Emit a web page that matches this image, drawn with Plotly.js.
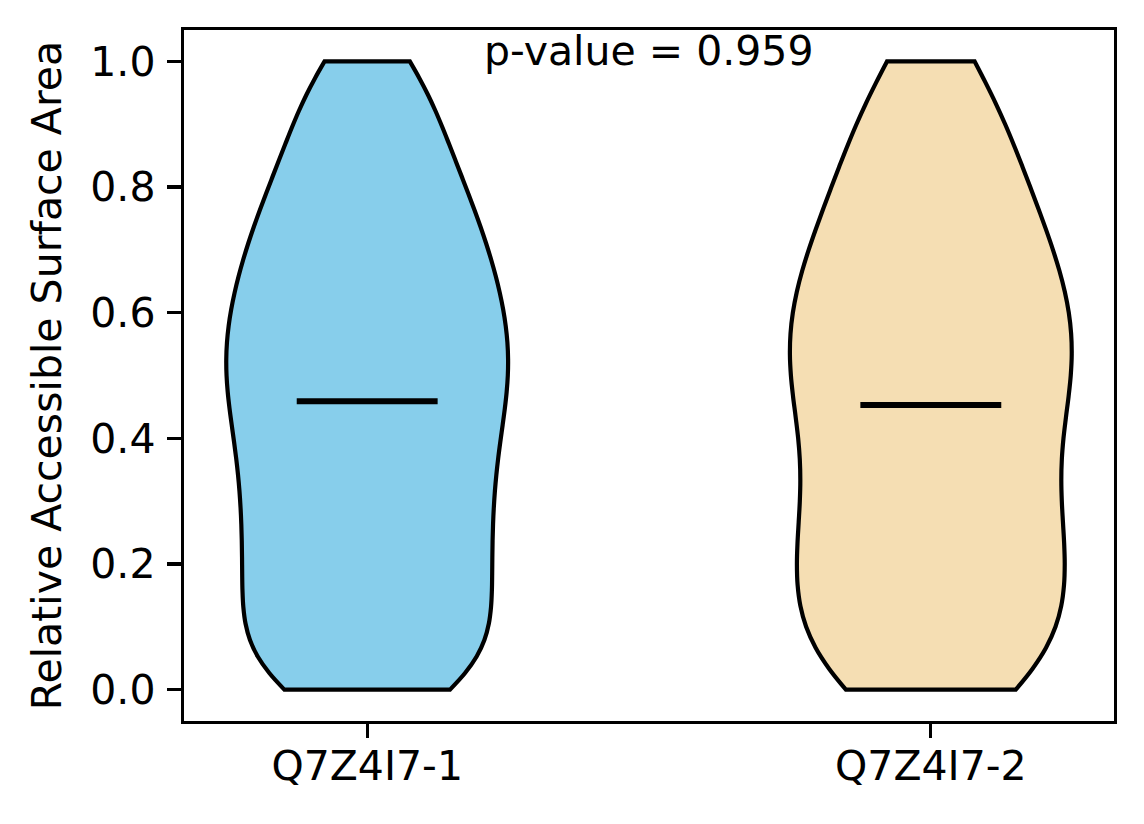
<!DOCTYPE html>
<html>
<head>
<meta charset="utf-8">
<script src="https://cdn.plot.ly/plotly-3.0.1.min.js"></script>
<style>
  html, body { margin: 0; padding: 0; background: #fff; }
  #chart { width: 1144px; height: 824px; }
</style>
</head>
<body>
<div id="chart"></div>
<script>
// isoform names and where they sit on the x axis
var groups = ['Q7Z4I7-1', 'Q7Z4I7-2']
var positions = [1, 2]

// relative accessible surface area per residue
var rsaIso1 = [0, 0, 0.008, 0.024, 0.040, 0.057, 0.073, 0.089, 0.105, 0.122,
  0.138, 0.154, 0.171, 0.187, 0.203, 0.219, 0.236, 0.252, 0.268, 0.285,
  0.301, 0.317, 0.333, 0.349, 0.365, 0.381, 0.396, 0.412, 0.427, 0.442,
  0.457, 0.471, 0.485, 0.498, 0.512, 0.526, 0.540, 0.554, 0.568, 0.582,
  0.596, 0.611, 0.626, 0.641, 0.656, 0.672, 0.688, 0.704, 0.721, 0.739,
  0.756, 0.775, 0.795, 0.815, 0.837, 0.861, 0.887, 0.916, 0.947, 0.981, 1.0]

var rsaIso2 = [0, 0, 0.008, 0.025, 0.041, 0.058, 0.074, 0.091, 0.107, 0.124,
  0.140, 0.156, 0.172, 0.188, 0.204, 0.219, 0.235, 0.251, 0.267, 0.283,
  0.300, 0.318, 0.336, 0.355, 0.374, 0.393, 0.411, 0.429, 0.445, 0.460,
  0.476, 0.490, 0.505, 0.520, 0.534, 0.548, 0.563, 0.578, 0.593, 0.608,
  0.623, 0.639, 0.655, 0.671, 0.689, 0.706, 0.724, 0.743, 0.763, 0.784,
  0.806, 0.830, 0.855, 0.881, 0.911, 0.943, 0.978, 1.0]

var meanValues = [0.459, 0.453]
var pValue = 0.959
var yTicks = [0, 0.2, 0.4, 0.6, 0.8, 1.0]

var fontFam = 'DejaVu Sans, sans-serif'

function violin (vals, pos, name, color, bw) {
  return {
    type: 'violin',
    y: vals,
    x0: pos,
    name: name,
    bandwidth: bw,
    spanmode: 'hard',
    points: false,
    width: 0.5,
    scalemode: 'width',
    fillcolor: color,
    opacity: 1,
    line: { color: 'black', width: 4.2 },
    box: { visible: false },
    meanline: { visible: false },
    hoverinfo: 'skip',
    showlegend: false
  }
}

// short horizontal mean bars, half the violin width
var mx = []
var my = []
positions.forEach(function (p, i) {
  mx.push(p - 0.125, p + 0.125, null)
  my.push(meanValues[i], meanValues[i], null)
})

var data = [
  violin(rsaIso1, positions[0], groups[0], '#87CEEB', 0.08),
  violin(rsaIso2, positions[1], groups[1], '#F5DEB3', 0.1),
  {
    type: 'scatter',
    mode: 'lines',
    x: mx,
    y: my,
    line: { color: 'black', width: 6 },
    hoverinfo: 'skip',
    showlegend: false
  }
]

var axisCommon = {
  showgrid: false,
  zeroline: false,
  showline: true,
  mirror: true,
  linecolor: 'black',
  linewidth: 3.3,
  ticks: 'outside',
  ticklen: 14,
  tickwidth: 3.3,
  tickcolor: 'black',
  tickfont: { family: fontFam, size: 41, color: 'black' }
}

var layout = {
  width: 1144,
  height: 824,
  margin: { l: 184, r: 30, t: 30, b: 103 },
  paper_bgcolor: 'white',
  plot_bgcolor: 'white',
  showlegend: false,
  xaxis: Object.assign({}, axisCommon, {
    range: [0.675, 2.325],
    tickmode: 'array',
    tickvals: positions,
    ticktext: groups,
    ticklabelstandoff: -8
  }),
  yaxis: Object.assign({}, axisCommon, {
    range: [-0.05, 1.05],
    tickmode: 'array',
    tickvals: yTicks,
    ticktext: yTicks.map(function (v) { return v.toFixed(1) }),
    ticklabelstandoff: 3,
    title: {
      text: 'Relative Accessible Surface Area',
      font: { family: fontFam, size: 41, color: 'black' },
      standoff: 17
    }
  }),
  annotations: [{
    xref: 'paper',
    yref: 'paper',
    x: 0.5,
    y: 0.970,
    xanchor: 'center',
    yanchor: 'middle',
    showarrow: false,
    text: 'p-value = ' + pValue.toFixed(3),
    font: { family: fontFam, size: 41, color: 'black' }
  }]
}

Plotly.newPlot('chart', data, layout, { displayModeBar: false, staticPlot: true })
</script>
</body>
</html>
